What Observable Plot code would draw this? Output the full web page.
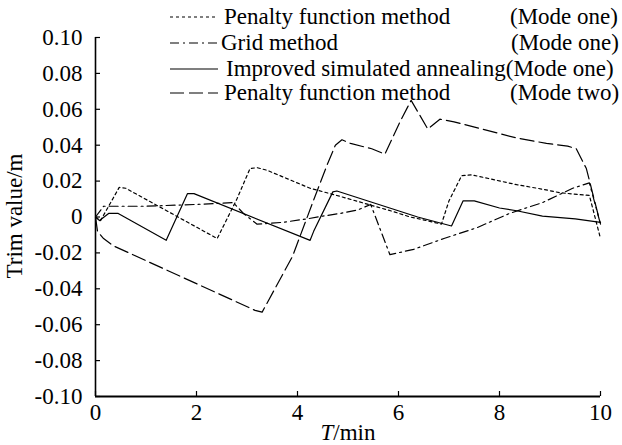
<!DOCTYPE html>
<html><head><meta charset="utf-8">
<script src="https://cdn.jsdelivr.net/npm/d3@7"></script>
<script src="https://cdn.jsdelivr.net/npm/@observablehq/plot@0.6"></script>
<style>
body{margin:0;background:#fff;}
#wrap{position:relative;width:622px;height:445px;font-family:'Liberation Serif','Times New Roman',Times,'DejaVu Serif',serif;color:#000;overflow:hidden;}
.t{position:absolute;font-size:23px;line-height:23px;white-space:nowrap;font-family:'Liberation Serif','Times New Roman',Times,'DejaVu Serif',serif;}
.sw{position:absolute;width:48px;height:10px;}
svg text{font-family:'Liberation Serif','Times New Roman',Times,'DejaVu Serif',serif;}
</style></head><body><div id="wrap"></div><script>
// ---- data ----
const xTicks = [0, 2, 4, 6, 8, 10];
const yTicks = [-0.10, -0.08, -0.06, -0.04, -0.02, 0, 0.02, 0.04, 0.06, 0.08, 0.10];

// Penalty function method (Mode one) - dotted
const penOneT = [0, 0.1, 0.47, 0.6, 2.41, 2.8, 3.06, 3.2, 3.4, 4.25, 4.78, 5.9, 6.23, 6.56, 6.85, 7.0, 7.25, 7.45, 8.34, 8.85, 9.2, 9.78, 10];
const penOneV = [0, -0.002, 0.0165, 0.016, -0.012, 0.010, 0.027, 0.0275, 0.026, 0.016, 0.012, 0.003, 0, -0.002, -0.004, 0.009, 0.023, 0.0235, 0.018, 0.0155, 0.0135, 0.012, -0.012];

// Grid method (Mode one) - dash-dot
const gridT = [0, 0.16, 1.0, 2.0, 2.73, 2.93, 3.2, 3.7, 4.2, 4.5, 4.85, 5.2, 5.45, 5.83, 6.3, 6.9, 7.55, 8.2, 8.85, 9.45, 9.78, 10];
const gridV = [0, 0.006, 0.006, 0.007, 0.008, 0.002, -0.004, -0.003, -0.001, 0.0005, 0.002, 0.004, 0.007, -0.021, -0.018, -0.012, -0.006, 0.002, 0.008, 0.016, 0.019, -0.004];

// Improved simulated annealing (Mode one) - solid
const saT = [0, 0.08, 0.26, 0.45, 1.4, 1.82, 1.95, 4.25, 4.32, 4.7, 4.78, 6.38, 7.05, 7.28, 7.5, 8.0, 8.34, 8.85, 9.5, 10];
const saV = [0, -0.002, 0.002, 0.002, -0.013, 0.013, 0.013, -0.013, -0.008, 0.014, 0.0145, 0, -0.005, 0.009, 0.009, 0.005, 0.0035, 0.0005, -0.001, -0.003];

// Penalty function method (Mode two) - long dash
const penTwoT = [0, 0.04, 0.16, 0.35, 3.16, 3.3, 3.9, 4.3, 4.6, 4.75, 4.88, 5.05, 5.47, 5.73, 6.03, 6.25, 6.58, 6.82, 7.1, 8.34, 8.93, 9.35, 9.52, 9.72, 10];
const penTwoV = [0, -0.008, -0.012, -0.016, -0.052, -0.053, -0.022, 0.008, 0.030, 0.040, 0.043, 0.041, 0.038, 0.035, 0.053, 0.065, 0.049, 0.0545, 0.053, 0.044, 0.041, 0.0395, 0.038, 0.027, -0.004];

const seriesNames = ["Penalty function method", "Grid method", "Improved simulated annealing", "Penalty function method"];
const modeNames = ["(Mode one)", "(Mode one)", "(Mode one)", "(Mode two)"];
const dashes = ["3,3", "9,4,2,4", null, "14,5"];

const toRows = (T, V) => T.map((t, i) => ({t, v: V[i]}));
const sets = [toRows(penOneT, penOneV), toRows(gridT, gridV), toRows(saT, saV), toRows(penTwoT, penTwoV)];

const fmt = d => (Math.abs(d) < 1e-9 ? "0" : d.toFixed(2));
const FONT = "'Liberation Serif','Times New Roman',Times,'DejaVu Serif',serif";

const chart = Plot.plot({
  width: 622, height: 445,
  marginTop: 37, marginBottom: 49, marginLeft: 95, marginRight: 22,
  style: {fontFamily: FONT, fontSize: "23px", background: "white", color: "black", overflow: "visible"},
  x: {domain: [0, 10]},
  y: {domain: [-0.1, 0.1]},
  marks: [
    Plot.axisY(yTicks, {tickSize: -5, tickPadding: 18, tickFormat: fmt, label: null, stroke: "black", fill: "black", fontSize: 23, fontFamily: FONT, strokeWidth: 1.2}),
    Plot.axisX(xTicks, {tickSize: -5, tickPadding: 12, tickFormat: d => String(d), label: null, stroke: "black", fill: "black", fontSize: 23, fontFamily: FONT, strokeWidth: 1.2}),
    ...sets.map((s, i) => Plot.line(s, {x: "t", y: "v", stroke: "black", strokeWidth: 1.2, strokeDasharray: dashes[i] || undefined})),
    Plot.ruleX([0], {stroke: "black", strokeWidth: 1.6}),
    Plot.ruleY([-0.1], {stroke: "black", strokeWidth: 2})
  ]
});

const wrap = document.getElementById("wrap");
wrap.appendChild(chart);

// legend (HTML overlay)
const rowY = [17, 43, 69, 93];
const textX = [224, 221, 226, 224];
const modeX = [510, 511, null, 510];
seriesNames.forEach((name, i) => {
  const sw = document.createElementNS("http://www.w3.org/2000/svg", "svg");
  sw.setAttribute("class", "sw");
  sw.setAttribute("width", 48); sw.setAttribute("height", 10);
  sw.style.left = "170px"; sw.style.top = (rowY[i] - 5) + "px";
  const ln = document.createElementNS("http://www.w3.org/2000/svg", "line");
  ln.setAttribute("x1", 0); ln.setAttribute("x2", 48); ln.setAttribute("y1", 5); ln.setAttribute("y2", 5);
  ln.setAttribute("stroke", "black"); ln.setAttribute("stroke-width", 1.2);
  if (dashes[i]) ln.setAttribute("stroke-dasharray", dashes[i]);
  sw.appendChild(ln);
  wrap.appendChild(sw);
  const tx = document.createElement("div");
  tx.className = "t";
  tx.style.left = textX[i] + "px"; tx.style.top = (rowY[i] - 12) + "px";
  tx.textContent = modeX[i] == null ? name + modeNames[i] : name;
  wrap.appendChild(tx);
  if (modeX[i] != null) {
    const m = document.createElement("div");
    m.className = "t";
    m.style.left = modeX[i] + "px"; m.style.top = (rowY[i] - 12) + "px";
    m.textContent = modeNames[i];
    wrap.appendChild(m);
  }
});

// axis titles
const xl = document.createElement("div");
xl.className = "t";
xl.style.left = "348px"; xl.style.top = "421px"; xl.style.transform = "translateX(-50%)";
xl.innerHTML = "<i>T</i>/min";
wrap.appendChild(xl);
const yl = document.createElement("div");
yl.className = "t";
yl.style.left = "14px"; yl.style.top = "216px";
yl.style.transform = "translate(-50%,-50%) rotate(-90deg)";
yl.textContent = "Trim value/m";
wrap.appendChild(yl);
</script></body></html>
